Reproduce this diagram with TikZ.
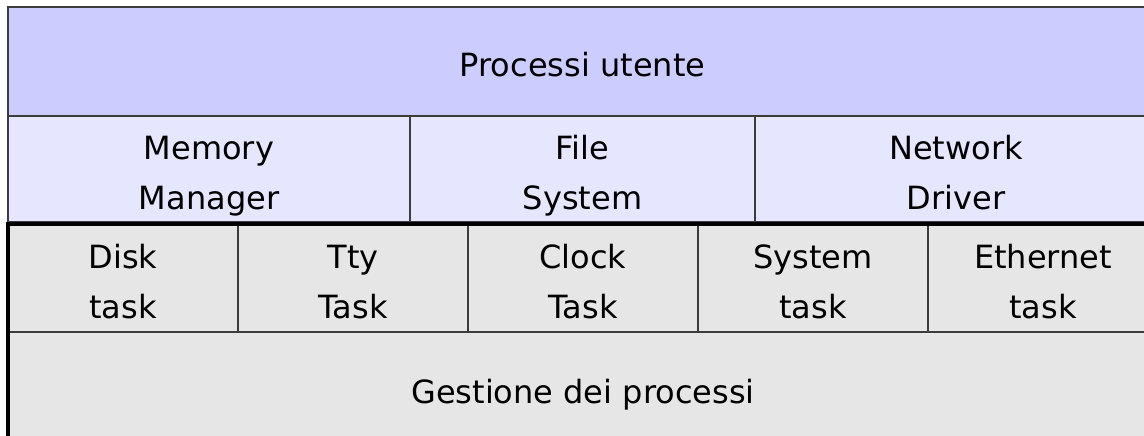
\documentclass[tikz,border=0pt]{standalone}
\usepackage{fontspec}
\setmainfont{DejaVu Sans}
\usetikzlibrary{positioning}
\definecolor{userblue}{RGB}{204,204,255}
\definecolor{srvblue}{RGB}{230,230,255}
\definecolor{kgray}{RGB}{230,230,230}
\definecolor{lineg}{RGB}{60,60,60}
% same baseline for every line of a cell
\newcommand{\cellstrut}{\rule[-9pt]{0pt}{48pt}}
\newcommand{\twolines}[2]{\cellstrut#1\\\cellstrut#2}
\tikzset{
  cell/.style={rectangle, draw=lineg, line width=1.2pt, inner sep=0pt, outer sep=0pt, align=center,
    font=\fontsize{32}{50}\selectfont},
  usercell/.style={cell, fill=userblue, minimum width=1149pt, minimum height=109pt},
  srvcell/.style={cell, fill=srvblue, minimum height=106pt},
  taskcell/.style={cell, fill=kgray, minimum width=230pt, minimum height=108pt},
  kernelcell/.style={cell, fill=kgray, minimum width=1150pt, minimum height=112pt},
  kframe/.style={draw=black, line width=4pt},
}

\begin{document}
\begin{tikzpicture}[x=1pt, y=-1pt]
  \useasboundingbox (0,0) rectangle (1144,436);

  % User processes
  \node[usercell] (user) at (582.5,61.5) {\cellstrut Processi utente};

  % Server layer
  \node[srvcell, minimum width=402pt] (mem) at (209,169) {\twolines{Memory}{Manager}};
  \node[srvcell, minimum width=345pt] (fs) at (582.5,169) {\twolines{File}{System}};
  \node[srvcell, minimum width=402pt] (net) at (956,169) {\twolines{Network}{Driver}};

  % I/O tasks
  \foreach \n/\a/\b [count=\i from 0] in {disk/Disk/task, tty/Tty/Task, clock/Clock/Task, sys/System/task, eth/Ethernet/task} {
    \node[taskcell] (\n) at (123+\i*230,278) {\twolines{\a}{\b}};
  }

  % Process management
  \node[kernelcell] (proc) at (583,388) {\cellstrut Gestione dei processi};

  % Kernel frame
  \draw[kframe] (disk.north west) rectangle (1170,460);
\end{tikzpicture}
\end{document}
